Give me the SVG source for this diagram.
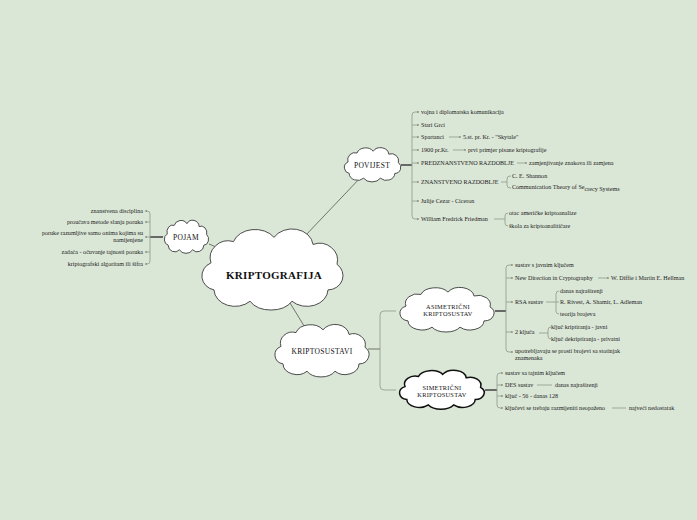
<svg xmlns="http://www.w3.org/2000/svg" width="697" height="520" viewBox="0 0 697 520">
<style>
.t{font-family:"Liberation Serif","DejaVu Serif",serif;font-size:6.1px;fill:#222}
.c{font-family:"Liberation Serif","DejaVu Serif",serif;font-size:7.5px;fill:#111;text-anchor:middle;letter-spacing:0.3px}
.cloud{fill:#fff;stroke:#3a3a3a;stroke-width:0.9}
.br{fill:none;stroke:#8d9a8b;stroke-width:0.8}
.tr{fill:none;stroke:#4a4a4a;stroke-width:1.6}
.ln{fill:none;stroke:#555;stroke-width:0.8}
</style>
<defs>
<path id="cl" d="M -40,-5 A 12,12 0 0 1 -25,-20 A 15,12 0 0 1 2,-23 A 14,12 0 0 1 28,-18 A 12,12 0 0 1 44,-4 A 10,10 0 0 1 38,14 A 14,12 0 0 1 14,22 A 16,12 0 0 1 -14,22 A 14,12 0 0 1 -38,14 A 10,10 0 0 1 -40,-5 Z" vector-effect="non-scaling-stroke"/>
<marker id="ar" viewBox="0 0 6 6" refX="5" refY="3" markerWidth="3" markerHeight="3" orient="auto"><path d="M0,0 L6,3 L0,6 Z" fill="#8d9a8b"/></marker>
</defs>
<rect width="697" height="520" fill="#dae6d6"/>

<g id="connectors">
<path class="ln" d="M304,237 L362,176"/>
<path class="ln" d="M228,252 L209,244"/>
<path class="ln" d="M290,303 L306,329"/>
<path class="tr" d="M163,237 L150,237"/>
<path class="br" d="M150,214 L150,261"/>
<path class="br" d="M150,214 Q150,211 147,211 L145,211" marker-end="url(#ar)"/>
<path class="br" d="M150,222 L145,222" marker-end="url(#ar)"/>
<path class="br" d="M150,237 L145,237" marker-end="url(#ar)"/>
<path class="br" d="M150,252 L145,252" marker-end="url(#ar)"/>
<path class="br" d="M150,261 Q150,264 147,264 L145,264" marker-end="url(#ar)"/>
<path class="tr" d="M401,165 L412,165"/>
<path class="br" d="M412,115 L412,216"/>
<path class="br" d="M412,115 Q412,112 415,112 L419,112" marker-end="url(#ar)"/>
<path class="br" d="M412,125 L419,125" marker-end="url(#ar)"/>
<path class="br" d="M412,137 L419,137" marker-end="url(#ar)"/>
<path class="br" d="M412,150 L419,150" marker-end="url(#ar)"/>
<path class="br" d="M412,163 L419,163" marker-end="url(#ar)"/>
<path class="br" d="M412,182 L419,182" marker-end="url(#ar)"/>
<path class="br" d="M412,201 L419,201" marker-end="url(#ar)"/>
<path class="br" d="M412,216 Q412,219 415,219 L419,219" marker-end="url(#ar)"/>
<path class="br" d="M449,137 L461,137" marker-end="url(#ar)"/>
<path class="br" d="M453,150 L466,150" marker-end="url(#ar)"/>
<path class="br" d="M517,163 L527,163" marker-end="url(#ar)"/>
<path class="br" d="M501,182 L507,182 M507,179 L507,185 M507,179 Q507,176 510,176 L511,176 M507,185 Q507,188 510,188 L511,188"/>
<path class="br" d="M494,219 L505,219 M505,216 L505,223 M505,216 Q505,213 508,213 M505,223 Q505,226 508,226"/>
<path class="ln" d="M368,349 L380,349"/>
<path class="br" d="M396,311 L384,311 Q380,311 380,315 L380,386 Q380,390 384,390 L396,390"/>
<path class="tr" d="M495,311 L506,311"/>
<path class="br" d="M506,268 L506,349"/>
<path class="br" d="M506,268 Q506,265 509,265 L513,265" marker-end="url(#ar)"/>
<path class="br" d="M506,278 L513,278" marker-end="url(#ar)"/>
<path class="br" d="M506,302 L513,302" marker-end="url(#ar)"/>
<path class="br" d="M506,332 L513,332" marker-end="url(#ar)"/>
<path class="br" d="M506,349 Q506,352 509,352 L513,352" marker-end="url(#ar)"/>
<path class="br" d="M598,278 L609,278" marker-end="url(#ar)"/>
<path class="br" d="M546,302 L556,302 M556,294 L556,311 M556,294 Q556,291 559,291 M556,311 Q556,314 559,314 M556,302 L559,302"/>
<path class="br" d="M539,333 L548,333 M548,330 L548,336 M548,330 Q548,327 551,327 M548,336 Q548,339 551,339"/>
<path class="tr" d="M485,390 L497,390"/>
<path class="br" d="M497,376 L497,405"/>
<path class="br" d="M497,376 Q497,373 500,373 L503,373" marker-end="url(#ar)"/>
<path class="br" d="M497,385 L503,385" marker-end="url(#ar)"/>
<path class="br" d="M497,396 L503,396" marker-end="url(#ar)"/>
<path class="br" d="M497,405 Q497,408 500,408 L503,408" marker-end="url(#ar)"/>
<path class="br" d="M537,385 L552,385"/>
<path class="br" d="M612,408 L626,408"/>
</g>

<g id="kriptografija">
<use href="#cl" transform="translate(271,270) scale(1.5,1.42)" class="cloud"/>
<text x="274" y="279" text-anchor="middle" style="font-family:'Liberation Serif','DejaVu Serif',serif;font-size:11px;font-weight:bold;fill:#111;letter-spacing:0.3px">KRIPTOGRAFIJA</text>
</g>
<g id="pojam">
<use href="#cl" transform="translate(186,237) scale(0.47,0.58)" class="cloud"/>
<text x="186" y="240" class="c">POJAM</text>
</g>
<g id="povijest">
<use href="#cl" transform="translate(372,165) scale(0.6,0.6)" class="cloud"/>
<text x="372" y="168" class="c">POVIJEST</text>
</g>
<g id="kriptosustavi">
<use href="#cl" transform="translate(321,351) scale(1,0.92)" class="cloud"/>
<text x="322" y="354" class="c">KRIPTOSUSTAVI</text>
</g>
<g id="asimetricni">
<use href="#cl" transform="translate(446,310) scale(1,0.78)" class="cloud"/>
<text x="448" y="309" class="c" style="font-size:6.3px">ASIMETRIČNI</text>
<text x="448" y="316" class="c" style="font-size:6.3px">KRIPTOSUSTAV</text>
</g>
<g id="simetricni">
<use href="#cl" transform="translate(441,390) scale(0.9,0.68)" class="cloud" style="stroke:#111;stroke-width:1.5"/>
<text x="442" y="390" class="c" style="font-size:6.3px">SIMETRIČNI</text>
<text x="442" y="397" class="c" style="font-size:6.3px">KRIPTOSUSTAV</text>
</g>

<g id="pojam-items" class="t" text-anchor="end">
<text x="143" y="213">znanstvena disciplina</text>
<text x="143" y="224">proučava metode slanja poruka</text>
<text x="143" y="235">poruke razumljive samo onima kojima su</text>
<text x="143" y="242">namijenjene</text>
<text x="143" y="254">zadaća - očuvanje tajnosti poruka</text>
<text x="143" y="266">kriptografski algoritam ili šifra</text>
</g>

<g id="povijest-items" class="t">
<text x="421" y="114">vojna i diplomatska komunikacija</text>
<text x="421" y="127">Stari Grci</text>
<text x="421" y="139">Spartanci</text>
<text x="463" y="139">5.st. pr. Kr. - "Skytale"</text>
<text x="421" y="152">1900 pr.Kr.</text>
<text x="468" y="152">prvi primjer pisane kriptografije</text>
<text x="421" y="165">PREDZNANSTVENO RAZDOBLJE</text>
<text x="529" y="165">zamjenjivanje znakova ili zamjena</text>
<text x="421" y="184">ZNANSTVENO RAZDOBLJE</text>
<text x="512" y="178">C. E. Shannon</text>
<text x="512" y="189">Communication Theory of Se<tspan dy="1.5">crecy Systems</tspan></text>
<text x="421" y="203">Julije Cezar - Ciceron</text>
<text x="421" y="221">William Fredrick Friedman</text>
<text x="509" y="215">otac američke kriptoanalize</text>
<text x="509" y="228">škola za kriptoanalitičare</text>
</g>

<g id="asimetricni-items" class="t">
<text x="515" y="267">sustav s javnim ključem</text>
<text x="515" y="280">New Direction in Cryptography</text>
<text x="611" y="280">W. Diffie i Martin E. Hellman</text>
<text x="515" y="304">RSA sustav</text>
<text x="560" y="293">danas najraširenji</text>
<text x="560" y="304">R. Rivest, A. Shamir, L. Adleman</text>
<text x="560" y="316">teorija brojeva</text>
<text x="515" y="334">2 ključa</text>
<text x="551" y="329">ključ kriptiranja - javni</text>
<text x="551" y="341">ključ dekriptiranja - privatni</text>
<text x="515" y="353">upotrebljavaju se prosti brojevi sa stotinjak</text>
<text x="515" y="360">znamenaka</text>
</g>

<g id="simetricni-items" class="t">
<text x="505" y="375">sustav sa tajnim ključem</text>
<text x="505" y="387">DES sustav</text>
<text x="555" y="387">danas najraširenji</text>
<text x="505" y="398">ključ - 56 - danas 128</text>
<text x="505" y="410">ključevi se trebaju razmijeniti neopaženo</text>
<text x="629" y="410">najveći nedostatak</text>
</g>
</svg>
